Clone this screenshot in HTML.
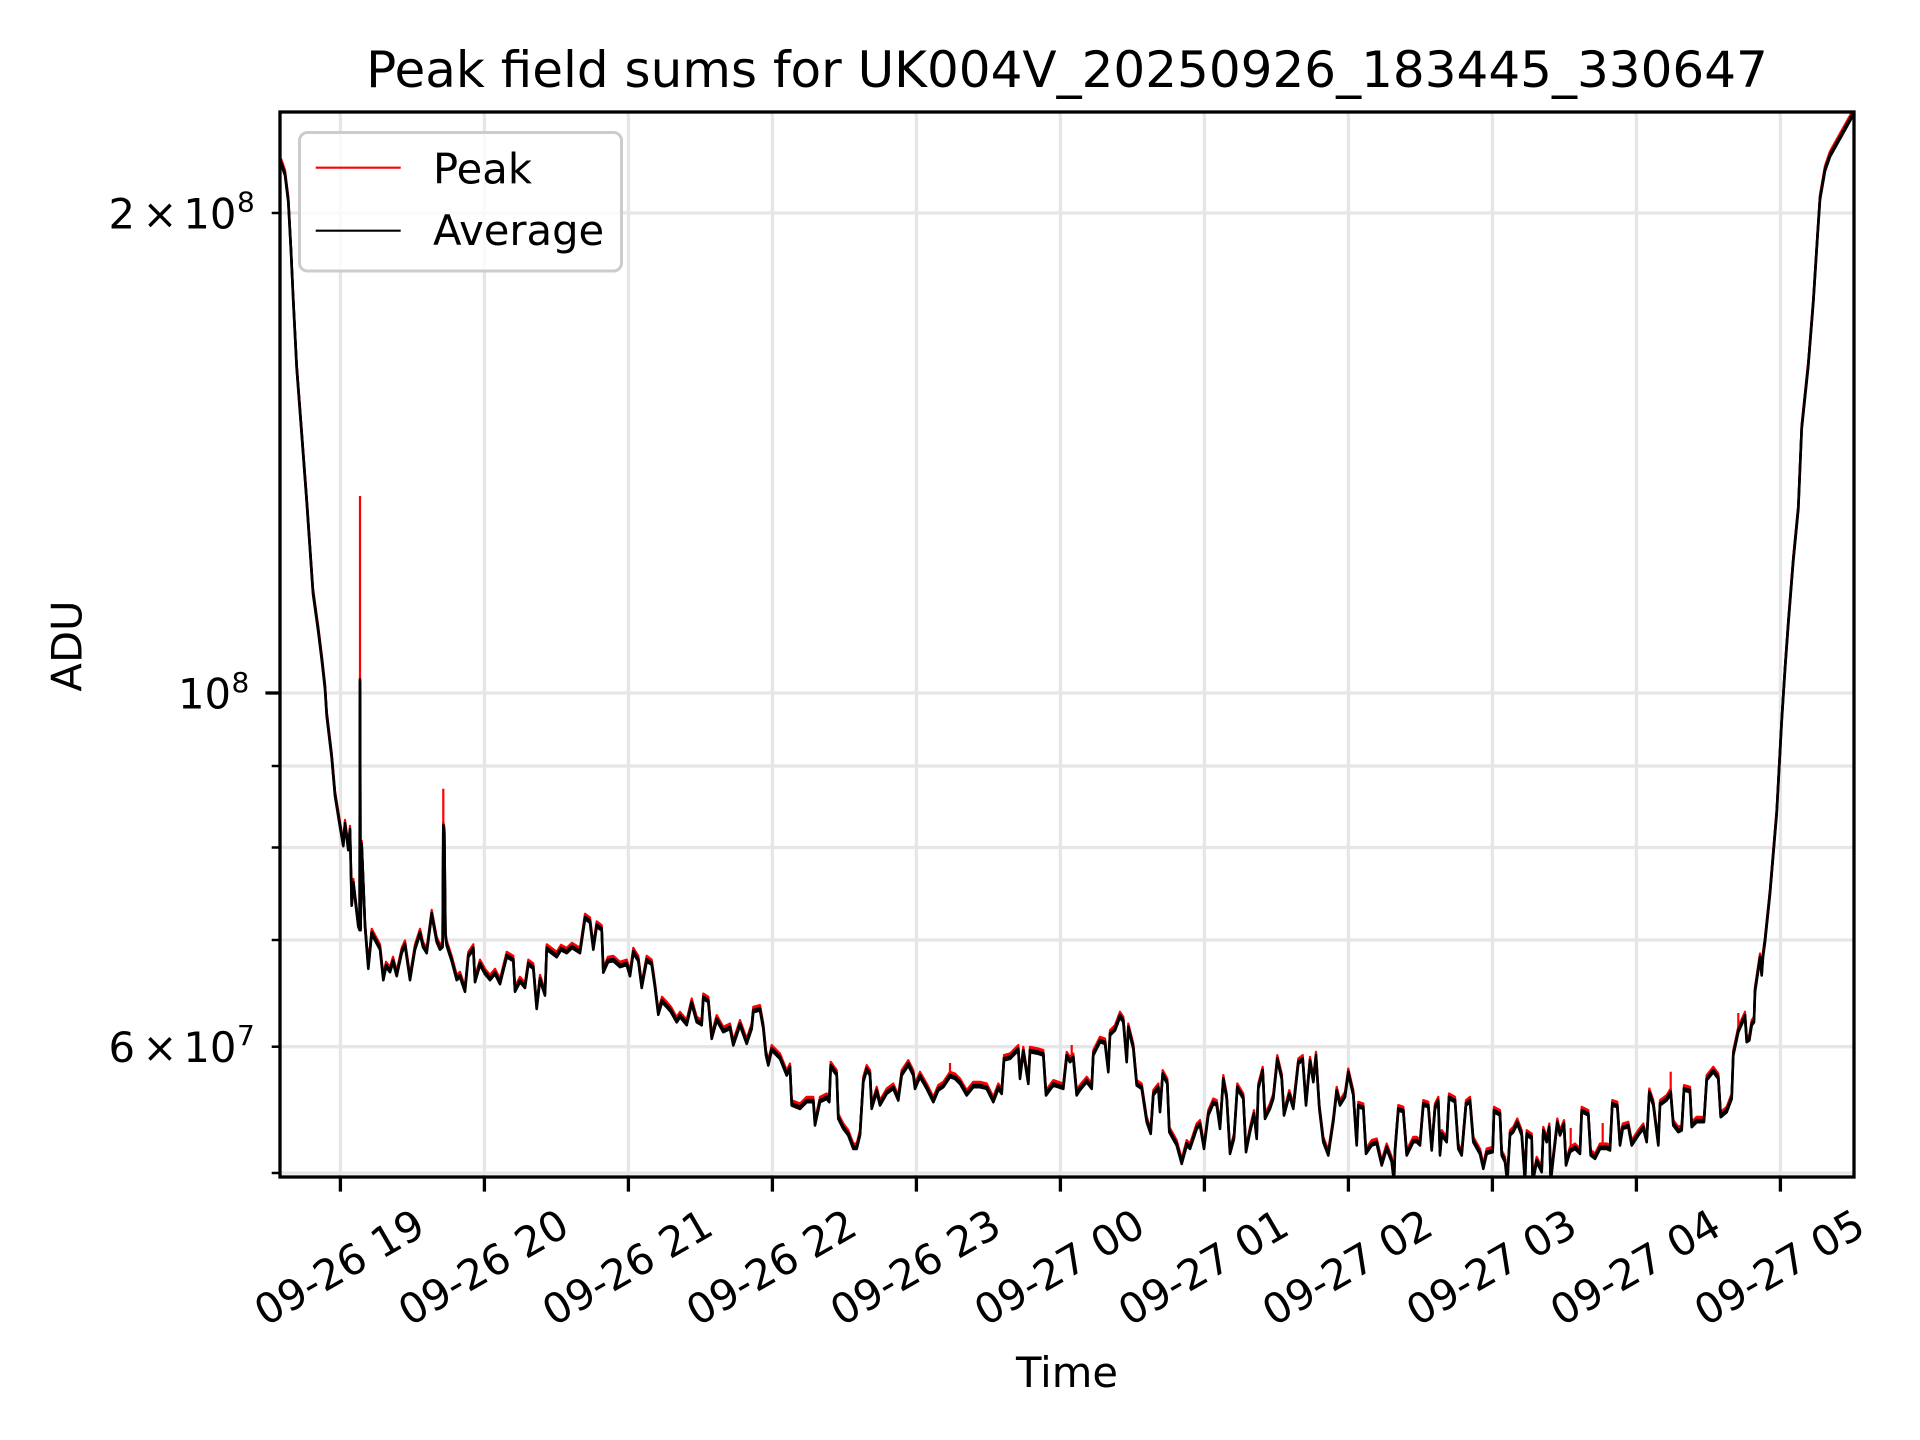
<!DOCTYPE html>
<html>
<head>
<meta charset="utf-8">
<style>
  html, body { margin: 0; padding: 0; background: #ffffff; }
  svg { display: block; }
  text { font-family: "DejaVu Sans", "Liberation Sans", sans-serif; fill: #000; }
</style>
</head>
<body>
<svg width="1920" height="1440" viewBox="0 0 1920 1440" xmlns="http://www.w3.org/2000/svg">
  <rect x="0" y="0" width="1920" height="1440" fill="#ffffff"/>
  <defs>
    <clipPath id="ax">
      <rect x="280" y="112" width="1574" height="1065"/>
    </clipPath>
    <polyline id="d" fill="none" stroke-linejoin="round" points="
281,161.7 285,173.3 288.3,200 291,250 293.3,300 296.7,366.7 301.7,433 306.7,500 313,591.6 318.3,629.9 322,660 325,687 326.7,714 331.7,756 335,794 340,825 343.3,844 345,823 348.3,848 350,829 351.7,903.5 353.3,882 356,905 358.3,924.5 359.6,928 360,679.6 360.6,928 361.7,844 363.3,882 365,924.5 368.3,966.6 371.7,932 376,940 380,947.5 383.3,978 386,965 390,970 393,960 396.7,974 401.7,951 405,943.7 410,978 415,947.5 420,932 423,945 426.7,951 431.7,913 436.7,940 440,947.5 442.6,945 443.3,825 444.3,830 445.5,935 446.7,943.7 451.7,959 456.7,978 460,975 465,989.6 468.3,955 473.3,947.5 475,980 480,962.8 485,972 490,978 495,972 500,982 506.7,955 513.3,959 515,989.6 520,980 525,985.8 528.3,962.8 533.3,966.6 536.7,1006.8 540,978 545,993.4 546.7,947.5 556.7,955 561,948 566.7,951 572,946 580,951 585,916.9 590,920.7 593.3,947.5 596.7,924.5 601.7,928.4 603.3,970.5 608,960 613.3,959 620,965 626.7,962.8 630,974 633.3,951 638.3,959 641.7,985.8 646.7,959 651.7,962.8 655,985.8 658.3,1012.6 662,1000 666.7,1005 671,1010 676.7,1020.2 680,1015
686.7,1023 691.7,1001.7 696.7,1020 701.7,1023 703.3,996.7 708.3,1000 711.7,1036.7 716.7,1018.3 723.3,1030 730,1026.7 733.3,1043.3 740,1023.3 746.7,1041.7 751.7,1026.7 753.3,1010 760,1008.3 763.3,1026.7 766,1053.3 768.3,1063.3 771.7,1048.3 780,1056.7 786.7,1073.3 790,1066.7 791.7,1103.3 800,1106.7 806.7,1100 813.3,1100 815,1123.3 820,1100 826.7,1096.7 829.3,1100 830.7,1065 836.7,1073.3 838.3,1116.7 843.3,1126.7 848.3,1133.3 853.3,1146.7 856.7,1146.7 860,1133.3 863.3,1080 866.7,1068.3 870,1073.3 871.7,1106.7 876.7,1090 880,1103.3 886.7,1091.7 893.3,1086.7 898.3,1098.3 901.7,1073.3 908.3,1063.3 913.3,1073.3 915,1086.7 920,1075 926.7,1086.7 933.3,1100 938.3,1088.3 943.3,1085 950,1075 955,1076.7 960,1081.7 966.7,1093.3 973.3,1085 980,1085 986.7,1086.7 993.3,1100 998.3,1086.7 1001.7,1091.7 1004,1058.3 1010,1056.7 1018.3,1048.3 1020,1076.7 1023.3,1050 1028.3,1081.7 1030,1050 1038.3,1051.7 1043.3,1053.3 1046,1093.3 1053.3,1083.3 1063.3,1086.7 1066.7,1055 1070,1060 1073.3,1056.7 1076.7,1093.3 1080,1088
1086.7,1080 1091.7,1086.7 1093.3,1053.3 1100,1040 1105,1041.7 1108.3,1070 1110,1033.3 1115,1028.3 1120,1015 1123.3,1020 1126.7,1060 1128.3,1026.7 1133.3,1046.7 1136.7,1083.3 1141.7,1086.7 1146.7,1120 1150.7,1131.7 1153.3,1093.3 1158.3,1086.7 1160,1110 1162.7,1073.3 1167.3,1081.7 1169.3,1130 1176.7,1143.3 1181.7,1161.7 1186.7,1143.3 1190,1146.7 1196.7,1126.7 1200,1123.3 1204,1146.7 1208.3,1113.3 1213.3,1101.7 1216.7,1103.3 1220,1126.7 1223.3,1078.3 1226.7,1096.7 1230,1151.7 1234,1136.7 1237.3,1086.7 1243.3,1096.7 1246,1150 1250,1130 1254,1113.3 1256.7,1136.7 1258.3,1086.7 1262.7,1070 1265,1116.7 1270,1106.7 1273.3,1096.7 1277.3,1058.3 1281.7,1076.7 1284,1113.3 1289.3,1093.3 1293.3,1106.7 1298.3,1061.7 1302.7,1058.3 1306,1103.3 1310,1060 1313.3,1080 1316,1055 1319.3,1106.7 1323.3,1140 1328.3,1153.3 1333.3,1120 1336.7,1090 1340,1103.3 1345,1095 1348.3,1071.7 1353.3,1093.3 1356.7,1143.3 1358.3,1105 1363.3,1106.7 1366,1151.7 1371.7,1143.3 1376.7,1141.7 1381.7,1163.3 1386.7,1146.7 1391.7,1160 1394,1180 1395,1150 1398.3,1108.3 1403.3,1110 1406.7,1153.3 1413.3,1140 1416.7,1140 1420,1143.3 1423.3,1103.3 1428.3,1105 1431.7,1148.3 1435,1106.7 1438.3,1100 1440,1153.3 1441.7,1133.3 1446.7,1140 1449,1096.7 1455,1100 1458.3,1146.7 1461.7,1153.3 1466,1103.3 1470,1100 1473.3,1140 1480,1152
1483.3,1166.7 1486.7,1151.7 1492.7,1150 1494,1110 1500,1113.3 1501.7,1153.3 1505,1160 1507.3,1180 1510,1133.3 1513.3,1130 1517.3,1121.7 1521.7,1133.3 1525,1180 1526.7,1133.3 1531.7,1136.7 1532.7,1180 1536.7,1160 1541.7,1170 1543.3,1130 1546.7,1140 1549.3,1126.7 1550.7,1180 1553.3,1156.7 1557.3,1121.7 1560,1133.3 1564,1123.3 1566,1163.3 1570,1150 1575,1146.7 1580,1151.7 1581.7,1110 1588.3,1113.3 1590.7,1153.3 1595,1156.7 1600,1146.7 1606.7,1146.7 1610,1148.3 1612.3,1103.3 1617.3,1105 1620,1143.3 1622.7,1126.7 1628.3,1125 1631.7,1143.3 1638.3,1133.3 1643.3,1126.7 1646.7,1140 1649.3,1091.7 1653.3,1103.3 1658.3,1143.3 1660,1103.3 1666.7,1098.3 1670.7,1091.7 1673.3,1123.3 1678.3,1130 1681.7,1128.3 1684,1088.3 1690,1090 1691.7,1125 1696.7,1120 1704,1120 1706.7,1078.3 1713.3,1070 1718.3,1076.7 1720.7,1115 1726.7,1110 1731.7,1096.7 1733.3,1053.3 1738.3,1030 1745,1015 1746.7,1040 1749.3,1038.3 1751.7,1023.3 1754,1020 1755,990 1760,956.7 1761.7,973.3 1763,955 1765,940 1770,892 1776.7,811.8 1781.7,720 1785,668.3 1788.3,622.4 1793.3,559 1798.3,507.6 1801.7,427 1808.3,364 1813.3,301 1817.7,232 1820,197.6 1825,168.9 1830,154.5 1856,108"/>
  </defs>

  <!-- grid -->
  <g stroke="#e6e6e6" stroke-width="3.3">
    <line x1="340.4" y1="112" x2="340.4" y2="1177"/>
    <line x1="484.4" y1="112" x2="484.4" y2="1177"/>
    <line x1="628.4" y1="112" x2="628.4" y2="1177"/>
    <line x1="772.4" y1="112" x2="772.4" y2="1177"/>
    <line x1="916.4" y1="112" x2="916.4" y2="1177"/>
    <line x1="1060.4" y1="112" x2="1060.4" y2="1177"/>
    <line x1="1204.4" y1="112" x2="1204.4" y2="1177"/>
    <line x1="1348.4" y1="112" x2="1348.4" y2="1177"/>
    <line x1="1492.4" y1="112" x2="1492.4" y2="1177"/>
    <line x1="1636.4" y1="112" x2="1636.4" y2="1177"/>
    <line x1="1780.4" y1="112" x2="1780.4" y2="1177"/>
    <line x1="280" y1="213" x2="1854" y2="213"/>
    <line x1="280" y1="693" x2="1854" y2="693"/>
    <line x1="280" y1="766" x2="1854" y2="766"/>
    <line x1="280" y1="847.5" x2="1854" y2="847.5"/>
    <line x1="280" y1="940" x2="1854" y2="940"/>
    <line x1="280" y1="1046.7" x2="1854" y2="1046.7"/>
    <line x1="280" y1="1173" x2="1854" y2="1173"/>
  </g>

  <!-- data -->
  <g clip-path="url(#ax)">
    <g stroke="#ff0000" stroke-width="2.2" fill="none">
      <use href="#d" transform="translate(0,-3.2)"/>
      <use href="#d" transform="translate(0,-1.5)"/>
      <line x1="360" y1="928" x2="360" y2="496"/>
      <line x1="443.3" y1="935" x2="443.3" y2="788.7"/>
      <line x1="950" y1="1075" x2="950" y2="1063"/>
      <line x1="1071.7" y1="1058" x2="1071.7" y2="1045"/>
      <line x1="1570.7" y1="1150" x2="1570.7" y2="1128"/>
      <line x1="1602.7" y1="1146" x2="1602.7" y2="1123"/>
      <line x1="1670.7" y1="1095" x2="1670.7" y2="1071.7"/>
      <line x1="1738.3" y1="1030" x2="1738.3" y2="1013"/>
    </g>
    <g stroke="#000000" stroke-width="2.6" fill="none">
      <use href="#d"/>
      <use href="#d" transform="translate(0,2.2)"/>
    </g>
  </g>

  <!-- spines -->
  <rect x="280" y="112" width="1574" height="1065" fill="none" stroke="#000" stroke-width="3.3"/>

  <!-- y ticks -->
  <g stroke="#000">
    <line x1="265.4" y1="693" x2="280" y2="693" stroke-width="3.3"/>
    <line x1="271.7" y1="213" x2="280" y2="213" stroke-width="2.5"/>
    <line x1="271.7" y1="766" x2="280" y2="766" stroke-width="2.5"/>
    <line x1="271.7" y1="847.5" x2="280" y2="847.5" stroke-width="2.5"/>
    <line x1="271.7" y1="940" x2="280" y2="940" stroke-width="2.5"/>
    <line x1="271.7" y1="1046.7" x2="280" y2="1046.7" stroke-width="2.5"/>
    <line x1="271.7" y1="1173" x2="280" y2="1173" stroke-width="2.5"/>
  </g>

  <!-- x ticks -->
  <g stroke="#000" stroke-width="3.3">
    <line x1="340.4" y1="1177" x2="340.4" y2="1191.6"/>
    <line x1="484.4" y1="1177" x2="484.4" y2="1191.6"/>
    <line x1="628.4" y1="1177" x2="628.4" y2="1191.6"/>
    <line x1="772.4" y1="1177" x2="772.4" y2="1191.6"/>
    <line x1="916.4" y1="1177" x2="916.4" y2="1191.6"/>
    <line x1="1060.4" y1="1177" x2="1060.4" y2="1191.6"/>
    <line x1="1204.4" y1="1177" x2="1204.4" y2="1191.6"/>
    <line x1="1348.4" y1="1177" x2="1348.4" y2="1191.6"/>
    <line x1="1492.4" y1="1177" x2="1492.4" y2="1191.6"/>
    <line x1="1636.4" y1="1177" x2="1636.4" y2="1191.6"/>
    <line x1="1780.4" y1="1177" x2="1780.4" y2="1191.6"/>
  </g>

  <!-- y tick labels -->
  <g font-size="41.7">
    <text x="108.5" y="228.5">2</text>
    <text x="160" y="228.5" text-anchor="middle">×</text>
    <text x="183.4" y="228.5">10</text>
    <text x="237" y="211.5" font-size="28">8</text>

    <text x="178" y="708.7">10</text>
    <text x="231.5" y="692" font-size="28">8</text>

    <text x="108.5" y="1062.2">6</text>
    <text x="160" y="1062.2" text-anchor="middle">×</text>
    <text x="183.4" y="1062.2">10</text>
    <text x="237" y="1045.2" font-size="28">7</text>
  </g>

  <!-- x tick labels -->
  <g font-size="41.7" text-anchor="middle">
    <text transform="translate(339,1267) rotate(-30)" y="15">09-26 19</text>
    <text transform="translate(483,1267) rotate(-30)" y="15">09-26 20</text>
    <text transform="translate(627,1267) rotate(-30)" y="15">09-26 21</text>
    <text transform="translate(771,1267) rotate(-30)" y="15">09-26 22</text>
    <text transform="translate(915,1267) rotate(-30)" y="15">09-26 23</text>
    <text transform="translate(1059,1267) rotate(-30)" y="15">09-27 00</text>
    <text transform="translate(1203,1267) rotate(-30)" y="15">09-27 01</text>
    <text transform="translate(1347,1267) rotate(-30)" y="15">09-27 02</text>
    <text transform="translate(1491,1267) rotate(-30)" y="15">09-27 03</text>
    <text transform="translate(1635,1267) rotate(-30)" y="15">09-27 04</text>
    <text transform="translate(1779,1267) rotate(-30)" y="15">09-27 05</text>
  </g>

  <!-- axis labels and title -->
  <text x="1067" y="1387" font-size="41.7" text-anchor="middle">Time</text>
  <text transform="translate(81.7,646) rotate(-90)" font-size="41.7" text-anchor="middle">ADU</text>
  <text x="1067" y="87" font-size="50" text-anchor="middle">Peak field sums for UK004V_20250926_183445_330647</text>

  <!-- legend -->
  <rect x="299.5" y="132.5" width="322" height="138.5" rx="8" ry="8" fill="#ffffff" fill-opacity="0.8" stroke="#cccccc" stroke-width="3"/>
  <line x1="315.7" y1="167.7" x2="400.7" y2="167.7" stroke="#ff0000" stroke-width="2.2"/>
  <line x1="315.7" y1="230.7" x2="400.7" y2="230.7" stroke="#000000" stroke-width="2.2"/>
  <text x="433" y="183.3" font-size="41.7">Peak</text>
  <text x="433" y="245" font-size="41.7">Average</text>
</svg>
</body>
</html>
